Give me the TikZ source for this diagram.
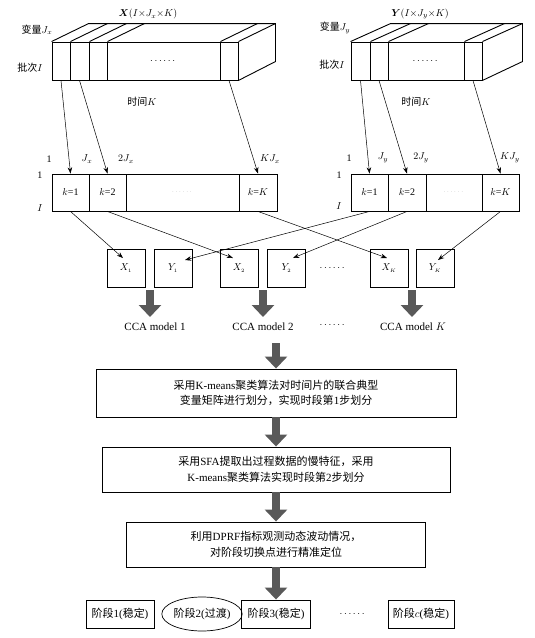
\documentclass[tikz,border=0pt]{standalone}
\usepackage{amsmath}
\usepackage{fontspec}
\setmainfont{Liberation Serif}
\newfontfamily\cjk{Noto Sans CJK SC}
\usetikzlibrary{arrows.meta,shapes.geometric,calc}

\begin{document}
\begin{tikzpicture}[x=1pt, y=-1pt,
    every node/.style={font=\fontsize{10}{12}\selectfont},
    sl/.style={rectangle, draw, line width=0.9pt, minimum height=38, inner sep=0pt},
    cl/.style={rectangle, draw, line width=0.9pt, minimum height=37, inner sep=0pt},
    sq/.style={rectangle, draw, line width=0.9pt, minimum width=38, minimum height=38, inner sep=0pt},
    stp/.style={rectangle, draw, line width=0.9pt, minimum height=28, inner sep=0pt,
                font=\fontsize{11}{13}\selectfont},
    bx/.style={rectangle, draw, line width=0.9pt, align=center, inner sep=0pt,
               font=\fontsize{11}{15.5}\selectfont},
    e/.style={-{Stealth[length=2.2mm, width=1.6mm]}, line width=0.5pt},
    fat/.style={line width=8pt, draw=black!65, -{Triangle[length=12pt, width=22pt]}},
  ]
  \useasboundingbox (0,0) rectangle (535,638);

  % X block
  \node[sl, minimum width=18] (xa1) at (61,61) {};
  \node[sl, minimum width=19] (xa2) at (79.5,61) {};
  \node[sl, minimum width=18] (xa3) at (98,61) {};
  \node[sl, minimum width=113] (xa4) at (163.5,61) {$\cdots\cdots$};
  \node[sl, minimum width=18] (xa5) at (229,61) {};
  \draw[line width=0.9pt] (xa1.north west) -- ++(37,-18) -- ($(xa5.north east)+(37,-18)$)
    -- ++(0,38) -- (xa5.south east);
  \draw[line width=0.9pt] (xa5.north east) -- ++(37,-18);
  \foreach \n in {xa1,xa2,xa3,xa4} \draw[line width=0.9pt] (\n.north east) -- ++(37,-18);
  \node (xt) at (148,14) {$\boldsymbol{X}(I{\times}J_x{\times}K)$};
  \node (xv) at (37,30) {{\cjk 变量}$J_x$};
  \node (xb) at (30,68) {{\cjk 批次}$I$};
  \node (xk) at (142,102) {{\cjk 时间}$K$};

  % Y block
  \node[sl, minimum width=19] (ya1) at (360.5,61) {};
  \node[sl, minimum width=18] (ya2) at (379,61) {};
  \node[sl, minimum width=76] (ya3) at (426,61) {$\cdots\cdots$};
  \node[sl, minimum width=18] (ya4) at (473,61) {};
  \draw[line width=0.9pt] (ya1.north west) -- ++(40,-18) -- ($(ya4.north east)+(40,-18)$)
    -- ++(0,38) -- (ya4.south east);
  \foreach \n in {ya1,ya2,ya3,ya4} \draw[line width=0.9pt] (\n.north east) -- ++(40,-18);
  \node (yt) at (420,14) {$\boldsymbol{Y}(I{\times}J_y{\times}K)$};
  \node (yv) at (335,28) {{\cjk 变量}$J_y$};
  \node (yb) at (332,65) {{\cjk 批次}$I$};
  \node (yk) at (416,102) {{\cjk 时间}$K$};

  % unfolded X
  \node[cl, minimum width=37] (xk1) at (70.5,192.5) {$k$=1};
  \node[cl, minimum width=37] (xk2) at (107.5,192.5) {$k$=2};
  \node[cl, minimum width=113] (xk3) at (182.5,192.5) {\tiny\color{gray}$\cdots\cdots$};
  \node[cl, minimum width=38] (xkK) at (258,192.5) {$k$=$K$};
  \node (xl1) at (49,159) {1};
  \node (xl2) at (87,159) {$J_x$};
  \node (xl3) at (126,159) {$2J_x$};
  \node (xl4) at (270,159) {$KJ_x$};
  \node (xr1) at (40,175) {1};
  \node (xrI) at (40,208) {$I$};

  % unfolded Y
  \node[cl, minimum width=37] (yk1) at (369.5,192.5) {$k$=1};
  \node[cl, minimum width=38] (yk2) at (407,192.5) {$k$=2};
  \node[cl, minimum width=56] (yk3) at (454,192.5) {\tiny\color{gray}$\cdots\cdots$};
  \node[cl, minimum width=37] (ykK) at (500.5,192.5) {$k$=$K$};
  \node (yl1) at (349,158) {1};
  \node (yl2) at (383,158) {$J_y$};
  \node (yl3) at (421,158) {$2J_y$};
  \node (yl4) at (510,158) {$KJ_y$};
  \node (yr1) at (339,175) {1};
  \node (yrI) at (339,206) {$I$};

  \draw[e] (xa1.south) -- (xk1.north);
  \draw[e] (xa2.south) -- (xk2.north);
  \draw[e] (xa5.south) -- (xkK.north);
  \draw[e] (ya1.south) -- (yk1.north);
  \draw[e] (ya2.south) -- (yk2.north);
  \draw[e] (ya4.south) -- (ykK.north);

  % time slices
  \node[sq] (bx1) at (126,268) {$X_{\scriptscriptstyle 1}$};
  \node[sq] (by1) at (173,268) {$Y_{\scriptscriptstyle 1}$};
  \node[sq] (bx2) at (239,268) {$X_{\scriptscriptstyle 2}$};
  \node[sq] (by2) at (286.5,268) {$Y_{\scriptscriptstyle 2}$};
  \node (bd) at (333,268) {$\cdots\cdots$};
  \node[sq] (bxK) at (389,268) {$X_{\scriptscriptstyle K}$};
  \node[sq] (byK) at (435,268) {$Y_{\scriptscriptstyle K}$};
  \coordinate (tx1) at (123,258);
  \coordinate (ty1) at (185,260);
  \coordinate (tx2) at (233,258);
  \coordinate (ty2) at (293,258);
  \coordinate (txK) at (387,258);
  \coordinate (tyK) at (438,260);
  \draw[e] (xk1.south) -- (tx1);
  \draw[e] (xk2.south) -- (tx2);
  \draw[e] (xkK.south) -- (txK);
  \draw[e] (yk1.south) -- (ty1);
  \draw[e] (yk2.south) -- (ty2);
  \draw[e] (ykK.south) -- (tyK);

  % CCA models
  \coordinate (m1) at (150,290);
  \coordinate (m2) at (263,290);
  \coordinate (m3) at (412,290);
  \node[font=\fontsize{11}{13}\selectfont] (cca1) at (155,327) {CCA model 1};
  \node[font=\fontsize{11}{13}\selectfont] (cca2) at (263,327) {CCA model 2};
  \node (ccad) at (333,325) {$\cdots\cdots$};
  \node[font=\fontsize{11}{13}\selectfont] (cca3) at (413,327) {CCA model $K$};
  \draw[fat] (m1) -- (150,317);
  \draw[fat] (m2) -- (263,317);
  \draw[fat] (m3) -- (412,317);

  % steps
  \node[bx, minimum width=360, minimum height=48] (s1) at (276,393)
    {{\cjk 采用}K-means{\cjk 聚类算法对时间片的联合典型}\\{\cjk 变量矩阵进行划分，实现时段第}1{\cjk 步划分}};
  \node[bx, minimum width=348, minimum height=45] (s2) at (276,469.5)
    {{\cjk 采用}SFA{\cjk 提取出过程数据的慢特征，采用}\\K-means{\cjk 聚类算法实现时段第}2{\cjk 步划分}};
  \node[bx, minimum width=299, minimum height=45] (s3) at (276,544.5)
    {{\cjk 利用}DPRF{\cjk 指标观测动态波动情况，}\\{\cjk 对阶段切换点进行精准定位}};
  \coordinate (m4) at (276,343);
  \draw[fat] (m4) -- (s1.north);
  \draw[fat] (s1.south) -- (s2.north);
  \draw[fat] (s2.south) -- (s3.north);

  % phases
  \node[stp, minimum width=68] (st1) at (120,614) {{\cjk 阶段}1({\cjk 稳定})};
  \node[ellipse, draw, line width=0.7pt, minimum width=70, minimum height=34, inner sep=0pt,
        font=\fontsize{11}{13}\selectfont] (st2) at (202,614) {{\cjk 阶段}2({\cjk 过渡})};
  \node[stp, minimum width=69] (st3) at (276,614) {{\cjk 阶段}3({\cjk 稳定})};
  \node (std) at (353,614) {$\cdots\cdots$};
  \node[stp, minimum width=66] (stc) at (421,614) {{\cjk 阶段}$c$({\cjk 稳定})};
  \draw[fat] (s3.south) -- (st3.north);
\end{tikzpicture}
\end{document}
